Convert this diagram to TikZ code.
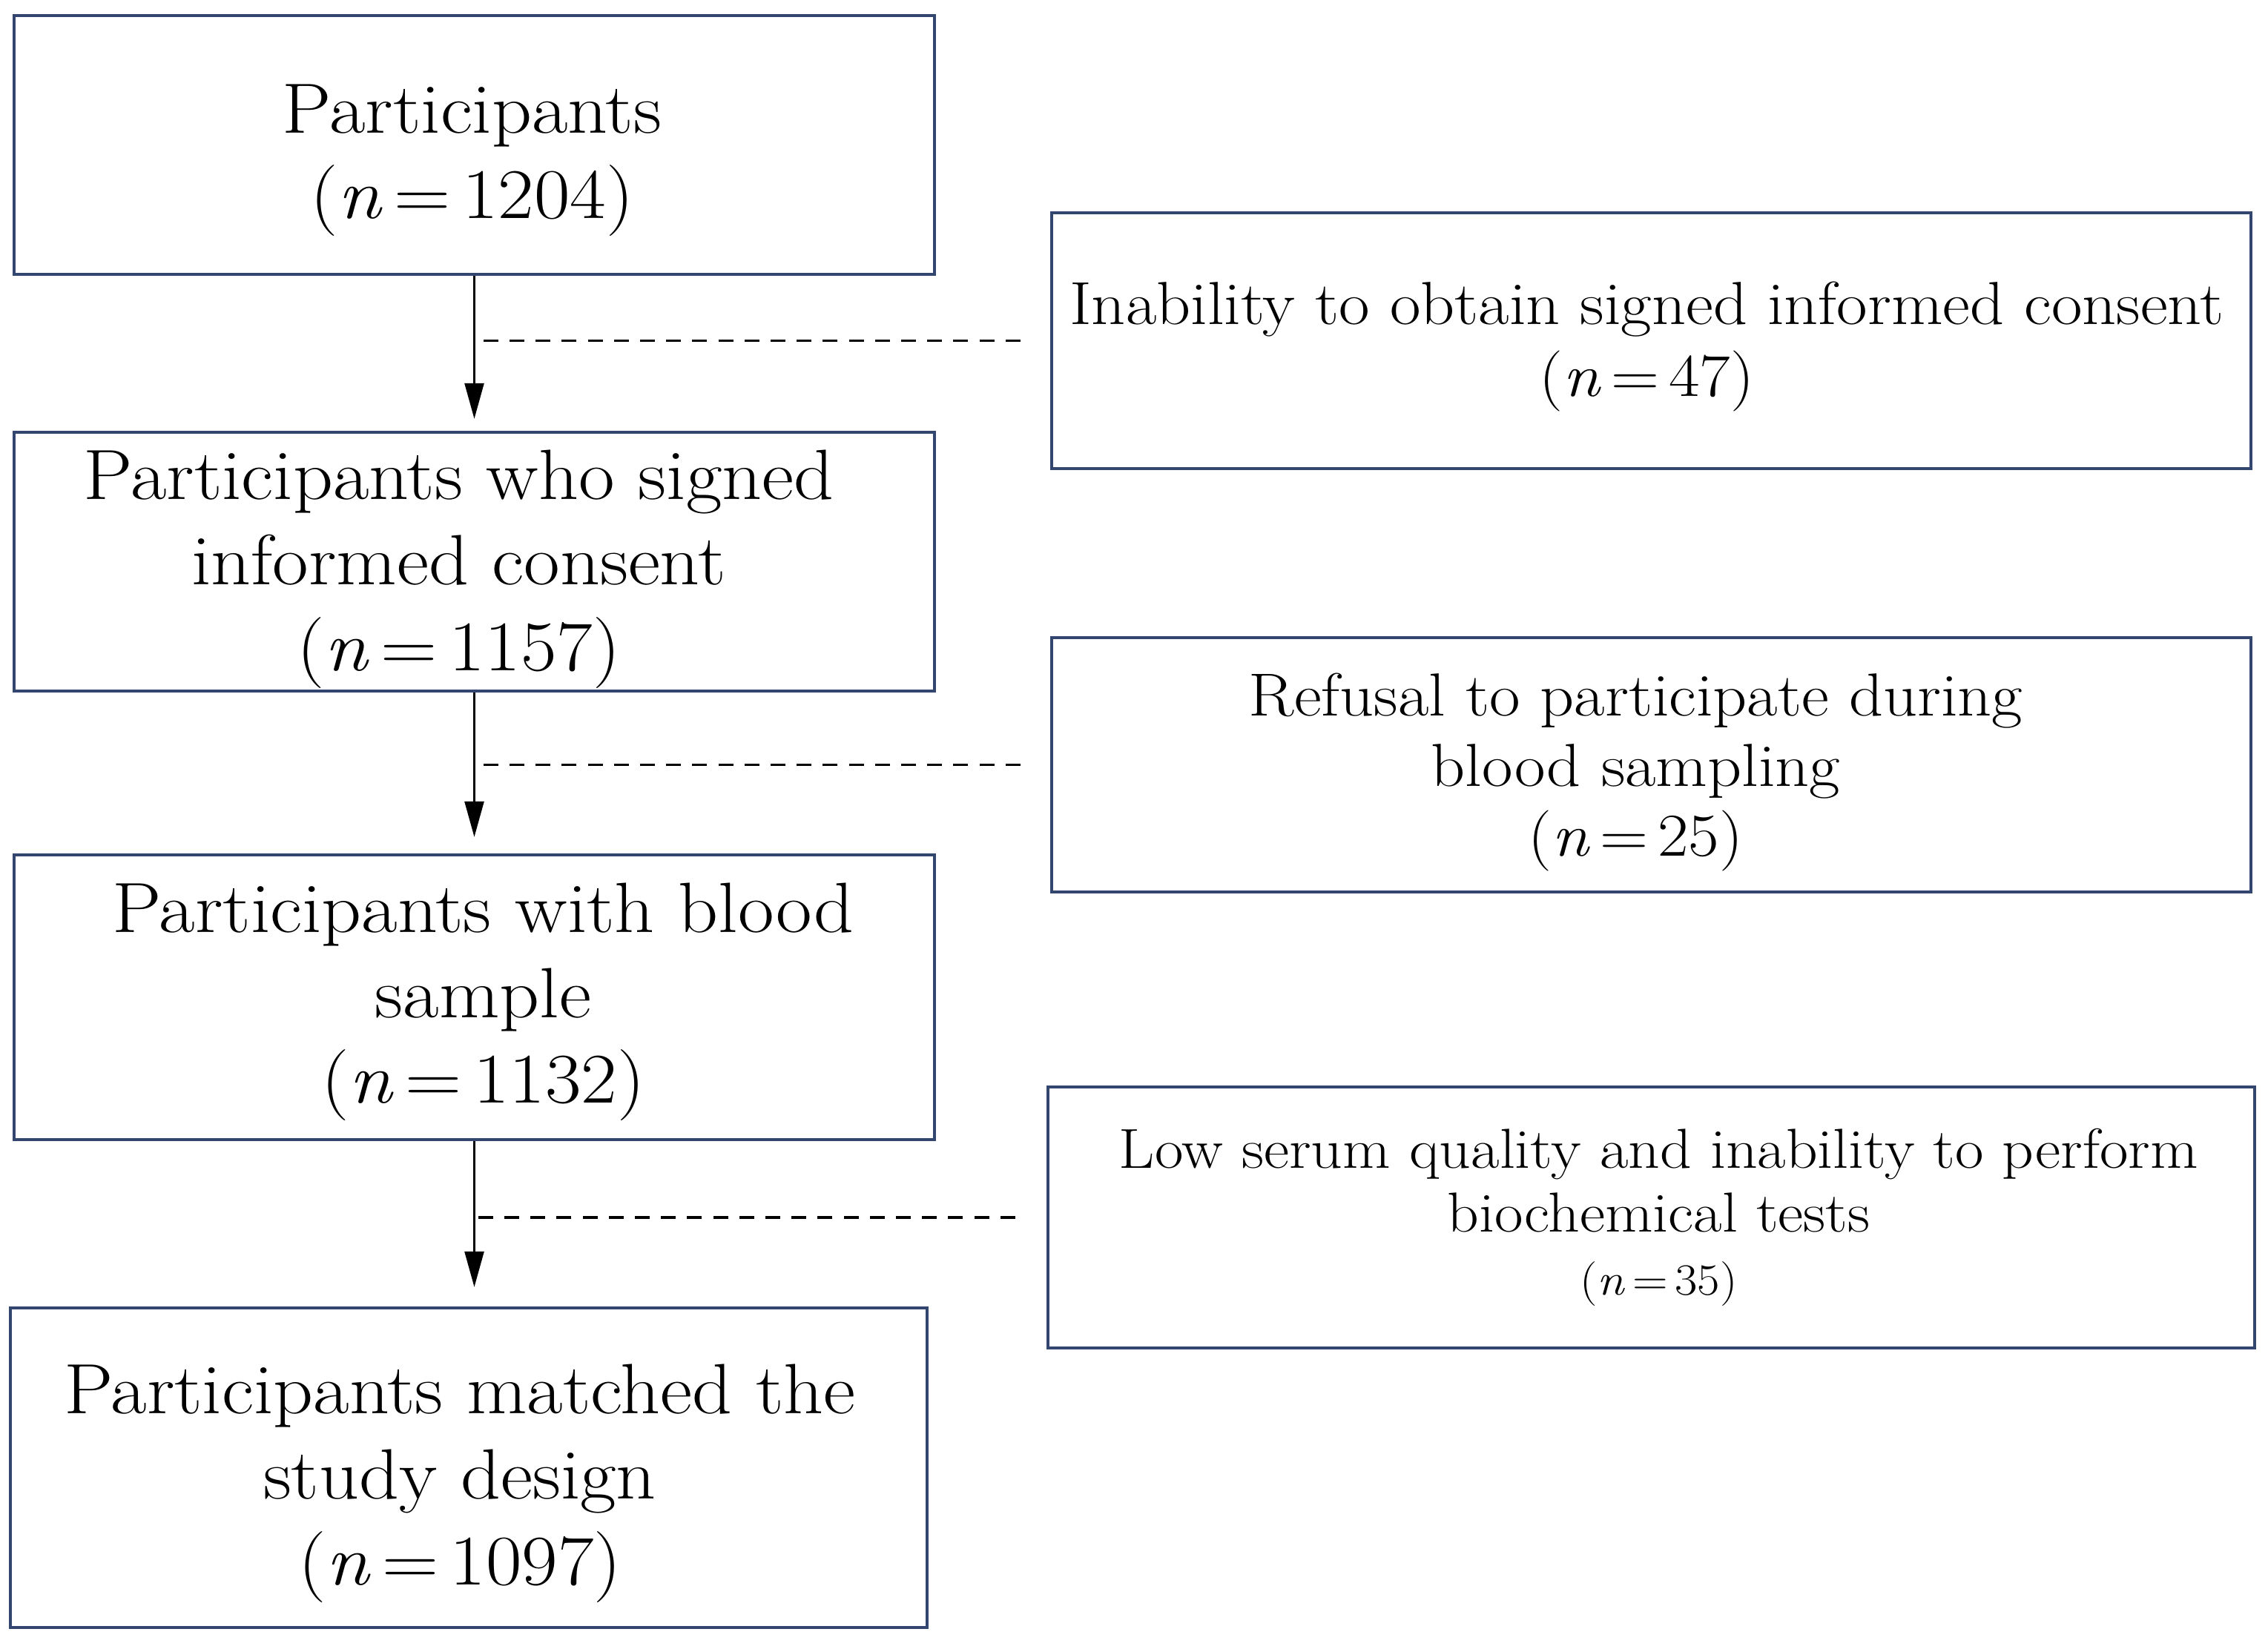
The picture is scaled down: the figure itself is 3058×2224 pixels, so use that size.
\documentclass[tikz,border=0pt]{standalone}
\usepackage{fontspec}
\setmainfont{Latin Modern Roman}[FakeStretch=1.1]
\usetikzlibrary{arrows.meta}
\definecolor{boxblue}{RGB}{50,70,112}
\newcommand{\eqn}[1]{(\textit{n}\hspace{0.16em}=\hspace{0.16em}#1)}
\begin{document}
\begin{tikzpicture}[x=0.25pt,y=-0.25pt,
  leftbox/.style={draw=boxblue, line width=1.1pt, rectangle, inner sep=0pt,
    minimum width=310.25pt},
  rightbox/.style={draw=boxblue, line width=1.1pt, rectangle, inner sep=0pt,
    minimum width=404.25pt},
  lefttext/.style={inner sep=0pt, align=center, font=\fontsize{24}{28.8}\selectfont},
  righttext/.style={inner sep=0pt, align=center},
  flow/.style={-{Triangle[length=12pt,width=6.5pt]}, line width=0.65pt, black},
  excl/.style={dash pattern=on 5pt off 3.8pt, line width=0.9pt, black}]
\useasboundingbox (0,0) rectangle (3058,2224);

\node[leftbox, minimum height=87.25pt] (b1) at (639.5,195.5) {};
\node[lefttext] (t1) at ([shift={(-3,21)}]b1.center)
  {Participants\\\eqn{1204}};
\node[leftbox, minimum height=87.25pt] (b2) at (639.5,757.5) {};
\node[lefttext] (t2) at ([shift={(-21,10)}]b2.center)
  {Participants who signed\\informed consent\\\eqn{1157}};
\node[leftbox, minimum height=96pt] (b3) at (639.5,1345) {};
\node[lefttext] (t3) at ([shift={(12,6)}]b3.center)
  {Participants with blood\\sample\\\eqn{1132}};
\node[leftbox, minimum width=309pt, minimum height=107.75pt] (b4) at (632,1979.5) {};
\node[lefttext] (t4) at ([shift={(-12,21)}]b4.center)
  {Participants matched the\\study design\\\eqn{1097}};

\node[rightbox, minimum height=86.25pt] (r1) at (2226.5,459.5) {};
\node[righttext, font=\fontsize{20.5}{24.4}\selectfont] (s1) at ([shift={(-6,8)}]r1.center)
  {Inability to obtain signed informed consent\\\eqn{47}};
\node[rightbox, minimum height=85.75pt] (r2) at (2226.5,1031.5) {};
\node[righttext, font=\fontsize{20.5}{23.6}\selectfont] (s2) at ([shift={(-21,10)}]r2.center)
  {Refusal to participate during\\blood sampling\\\eqn{25}};
\node[rightbox, minimum width=406.75pt, minimum height=88pt] (r3) at (2226.5,1642) {};
\node[righttext, font=\fontsize{19}{21.4}\selectfont] (s3) at ([shift={(10,0)}]r3.center)
  {Low serum quality and inability to perform\\biochemical tests\\{\fontsize{15}{21.4}\selectfont\eqn{35}}};

\draw[flow, shorten >=4pt] (b1.south) -- (b1.south |- b2.north);
\draw[flow, shorten >=5.5pt] (b2.south) -- (b2.south |- b3.north);
\draw[flow, shorten >=6.5pt] (b3.south) -- (b3.south |- b4.north);

\draw[excl, shorten <=10pt] (r1.west) -- (b1.south |- r1.west);
\draw[excl, shorten <=10pt] (r2.west) -- (b2.south |- r2.west);
\draw[excl, shorten <=10.5pt] (r3.west) -- (b3.south |- r3.west);
\end{tikzpicture}
\end{document}
